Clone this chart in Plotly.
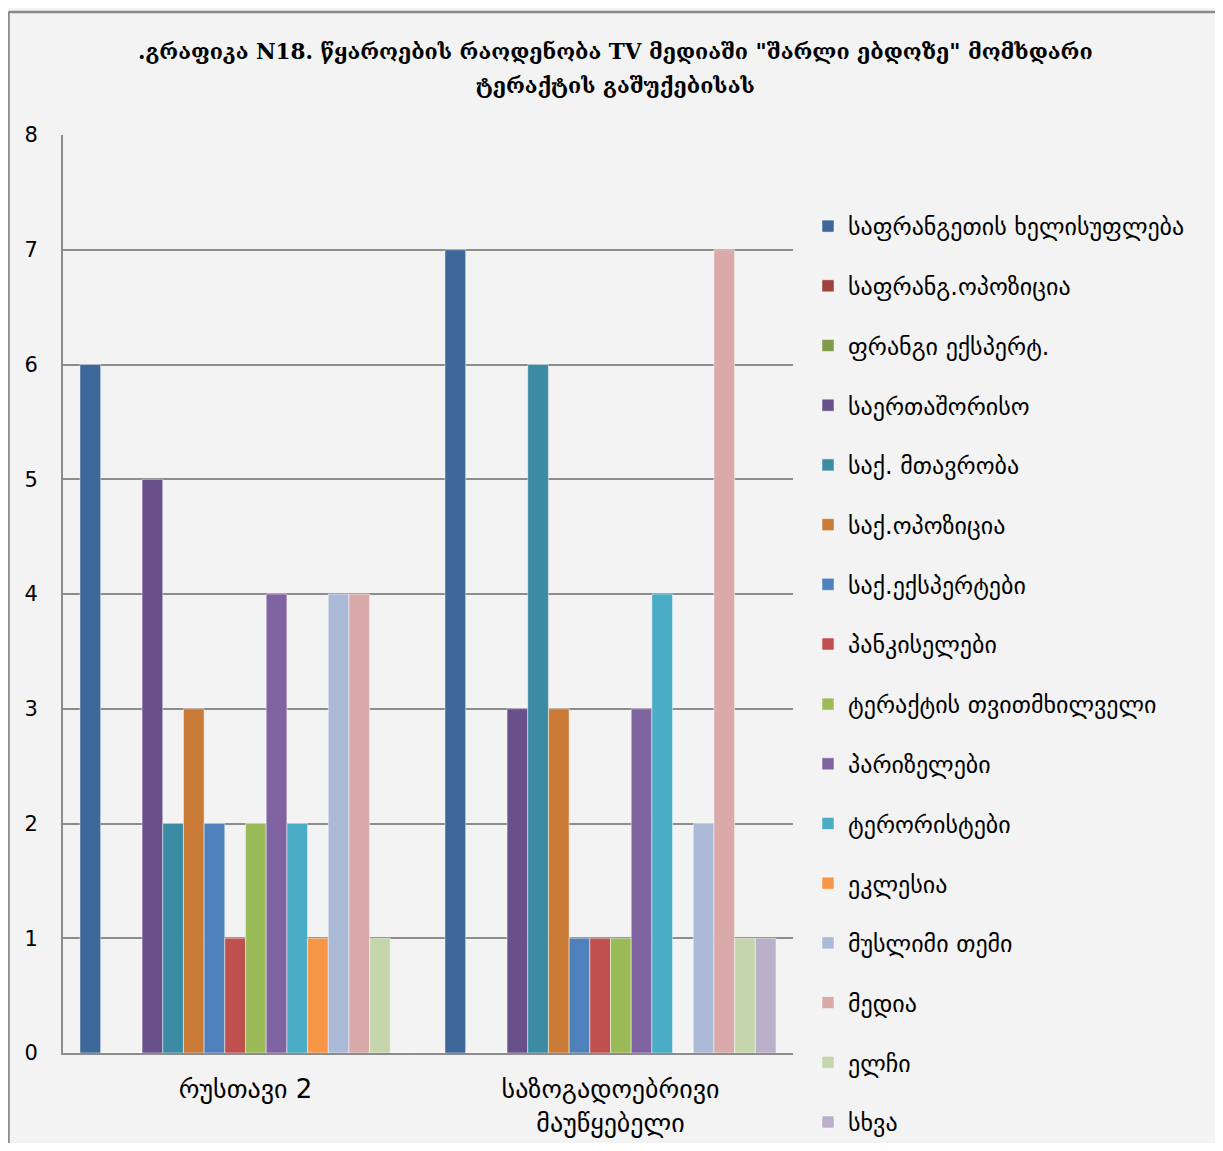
import plotly.graph_objects as go

categories = ["რუსთავი 2", "საზოგადოებრივი<br>მაუწყებელი"]

series_names = [
    "საფრანგეთის ხელისუფლება",
    "საფრანგ.ოპოზიცია",
    "ფრანგი ექსპერტ.",
    "საერთაშორისო",
    "საქ. მთავრობა",
    "საქ.ოპოზიცია",
    "საქ.ექსპერტები",
    "პანკისელები",
    "ტერაქტის თვითმხილველი",
    "პარიზელები",
    "ტერორისტები",
    "ეკლესია",
    "მუსლიმი თემი",
    "მედია",
    "ელჩი",
    "სხვა",
]

rustavi2 = [6, 0, 0, 5, 2, 3, 2, 1, 2, 4, 2, 1, 4, 4, 1, 0]
public_broadcaster = [7, 0, 0, 3, 6, 3, 1, 1, 1, 3, 4, 0, 2, 7, 1, 1]

colors = [
    "#3D6899", "#A0403D", "#7F9A48", "#68508A", "#3A8BA3", "#CB7B38",
    "#4F81BD", "#C0504D", "#9BBB59", "#8064A2", "#4BACC6", "#F79646",
    "#AABAD7", "#D9AAA9", "#C6D6AC", "#BAB0CA",
]

y_ticks = [0, 1, 2, 3, 4, 5, 6, 7, 8]

title_line1 = ".გრაფიკა N18. წყაროების რაოდენობა TV მედიაში \"შარლი ებდოზე\" მომხდარი"
title_line2 = "ტერაქტის გაშუქებისას"

# figure sits at page offset (8, 8) because of the default body margin
W, H = 1207, 1135
L, T = 55, 127
PLOT_R, PLOT_B = 785, 1045
R, B = W - PLOT_R, H - PLOT_B
pw, ph = PLOT_R - L, PLOT_B - T


def fx(px):
    return (px - L) / pw


def fy(py):
    return (PLOT_B - py) / ph


fig = go.Figure()
for i, name in enumerate(series_names):
    fig.add_trace(go.Bar(
        x=categories,
        y=[rustavi2[i], public_broadcaster[i]],
        name=name,
        legendgroup=f"g{i}",
        legend="legend" if i < 8 else "legend2",
        marker=dict(color=colors[i], line=dict(color="rgba(255,255,255,0.6)", width=0.8)),
    ))

legend_common = dict(
    xanchor="left", yanchor="top", xref="paper", yref="paper",
    font=dict(family="DejaVu Sans", size=24, color="#000000"),
    tracegroupgap=25.5,
    bgcolor="rgba(0,0,0,0)",
    itemwidth=30,
)

fig.update_layout(
    width=W, height=H,
    margin=dict(l=L, r=R, t=T, b=B, autoexpand=False),
    paper_bgcolor="#F3F3F3",
    plot_bgcolor="rgba(0,0,0,0)",
    barmode="group",
    bargap=0.093,
    bargroupgap=0,
    font=dict(family="DejaVu Sans", size=20, color="#000000"),
    legend=dict(x=fx(800), y=fy(196), **legend_common),
    legend2=dict(x=fx(800), y=fy(674), **legend_common),
    showlegend=True,
    xaxis=dict(
        showgrid=False,
        showline=True, linecolor="#8C8C8C", linewidth=2,
        ticks="", tickfont=dict(family="DejaVu Sans", size=26),
        ticklabelstandoff=12,
    ),
    yaxis=dict(
        range=[0, 8],
        tickvals=y_ticks,
        showgrid=True, gridcolor="#8C8C8C", gridwidth=1.5,
        showline=True, linecolor="#8C8C8C", linewidth=2,
        zeroline=False,
        ticks="", ticklabelstandoff=19,
        tickfont=dict(family="DejaVu Sans", size=21),
    ),
    annotations=[
        dict(text=title_line1, x=fx(607), y=fy(44), xref="paper", yref="paper",
             xanchor="center", yanchor="middle", showarrow=False,
             font=dict(family="DejaVu Serif", size=21.5, color="#000000", weight="bold")),
        dict(text=title_line2, x=fx(607), y=fy(78), xref="paper", yref="paper",
             xanchor="center", yanchor="middle", showarrow=False,
             font=dict(family="DejaVu Serif", size=21.5, color="#000000", weight="bold")),
    ],
    shapes=[
        dict(type="line", xref="paper", yref="paper", layer="above",
             x0=fx(0.5), x1=fx(0.5), y0=fy(H), y1=fy(4),
             line=dict(color="#8A8A8A", width=2.5)),
        dict(type="line", xref="paper", yref="paper", layer="above",
             x0=fx(0.5), x1=fx(W), y0=fy(4), y1=fy(4),
             line=dict(color="#8A8A8A", width=2.5)),
    ],
)

fig.write_html("out.html")
